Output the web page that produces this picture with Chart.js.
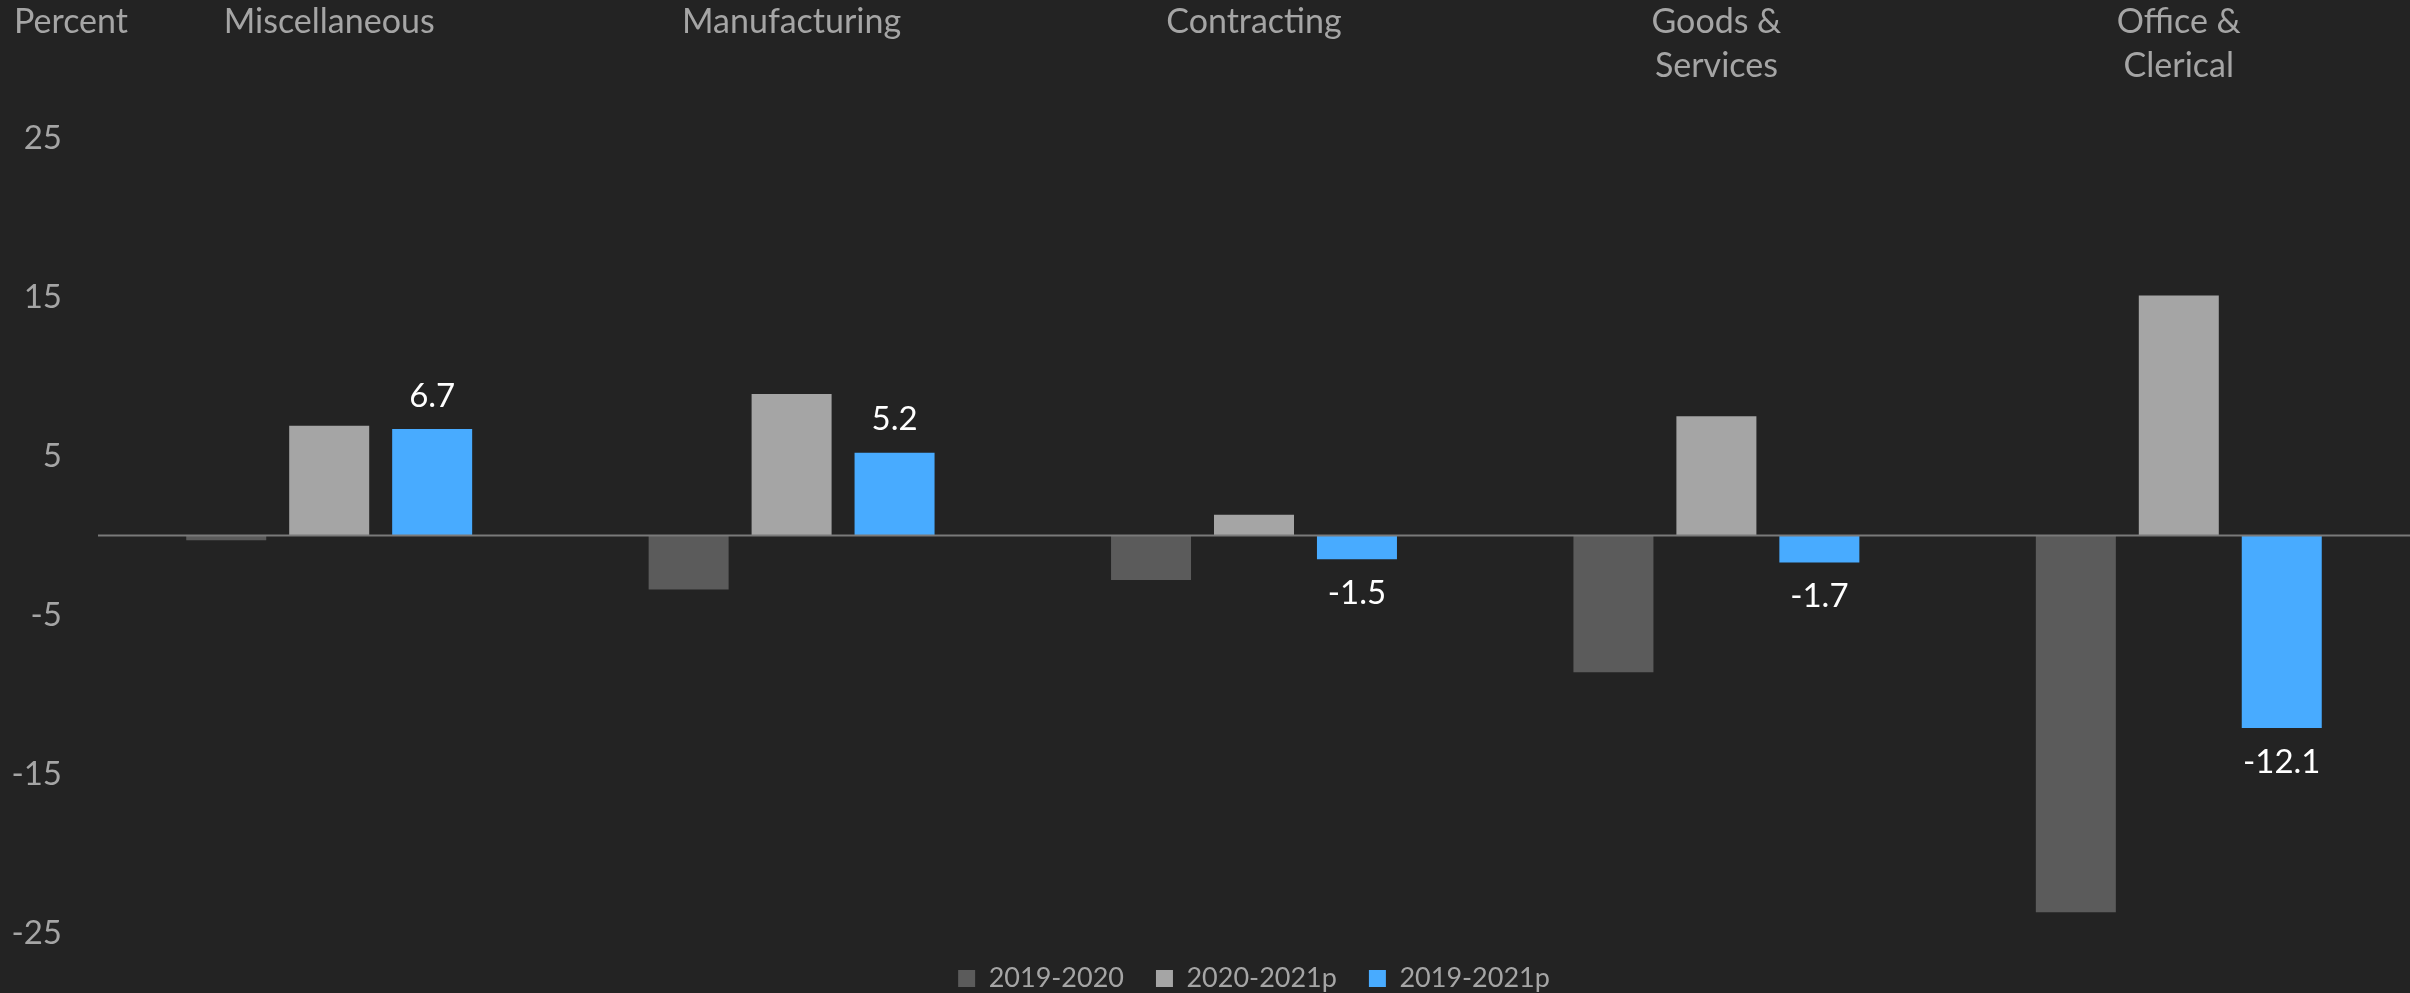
<!DOCTYPE html>
<html>
<head>
<meta charset="utf-8">
<title>Percent change by occupation group</title>
<script src="https://cdn.jsdelivr.net/npm/chart.js@4.4.1/dist/chart.umd.min.js"></script>
<style>
  html, body { margin: 0; padding: 0; background: #232323; }
  #wrap { width: 2410px; height: 993px; position: relative; }
  canvas { display: block; }
</style>
</head>
<body>
<div id="wrap"><canvas id="chart" width="2410" height="993"></canvas></div>
<script>
// Occupation groups (multi-line labels as arrays)
const categories = [
  ['Miscellaneous'],
  ['Manufacturing'],
  ['Contracting'],
  ['Goods &', 'Services'],
  ['Office &', 'Clerical']
];

// Series names
const seriesNames = ['2019-2020', '2020-2021p', '2019-2021p'];

// Percent change per group
const change2019to2020 = [-0.3, -3.4, -2.8, -8.6, -23.7];
const change2020to2021p = [6.9, 8.9, 1.3, 7.5, 15.1];
const change2019to2021p = [6.7, 5.2, -1.5, -1.7, -12.1];

// Value axis
const yTicks = [-25, -15, -5, 5, 15, 25];
const yAxisTitle = 'Percent';

const FONT = 'Lato';
const TEXT_GREY = '#a5a5a5';

// Horizontal line at zero across the plot
const zeroLine = {
  id: 'zeroLine',
  afterDatasetsDraw(chart) {
    const { ctx, chartArea, scales } = chart;
    const y = scales.y.getPixelForValue(0);
    ctx.save();
    ctx.strokeStyle = '#7a7a7a';
    ctx.lineWidth = 2;
    ctx.beginPath();
    ctx.moveTo(chartArea.left, y);
    ctx.lineTo(chartArea.right, y);
    ctx.stroke();
    ctx.restore();
  }
};

// Value labels on the cumulative series
const valueLabels = {
  id: 'valueLabels',
  afterDatasetsDraw(chart) {
    const { ctx } = chart;
    const dsIndex = 2;
    const meta = chart.getDatasetMeta(dsIndex);
    const values = chart.data.datasets[dsIndex].data;
    ctx.save();
    ctx.font = '33px ' + FONT;
    ctx.fillStyle = '#ffffff';
    ctx.textAlign = 'center';
    ctx.textBaseline = 'middle';
    meta.data.forEach((bar, i) => {
      const v = values[i];
      const y = v >= 0 ? bar.y - 33 : bar.y + 34;
      ctx.fillText(v.toFixed(1), bar.x, y);
    });
    ctx.restore();
  }
};

// Axis title written horizontally at the top-left corner
const axisTitle = {
  id: 'axisTitle',
  afterDraw(chart) {
    const { ctx } = chart;
    ctx.save();
    ctx.font = '34px ' + FONT;
    ctx.fillStyle = TEXT_GREY;
    ctx.textAlign = 'left';
    ctx.textBaseline = 'middle';
    ctx.fillText(yAxisTitle, 14, 22);
    ctx.restore();
  }
};

new Chart(document.getElementById('chart'), {
  type: 'bar',
  data: {
    labels: categories,
    datasets: [
      { label: seriesNames[0], data: change2019to2020, backgroundColor: '#5b5b5b', borderWidth: 0 },
      { label: seriesNames[1], data: change2020to2021p, backgroundColor: '#a5a5a5', borderWidth: 0 },
      { label: seriesNames[2], data: change2019to2021p, backgroundColor: '#48abff', borderWidth: 0 }
    ]
  },
  options: {
    responsive: false,
    animation: false,
    devicePixelRatio: 1,
    layout: { padding: 0 },
    datasets: {
      bar: { categoryPercentage: 0.668, barPercentage: 0.777 }
    },
    scales: {
      x: {
        position: 'top',
        grid: { display: false, drawTicks: false },
        border: { display: false },
        ticks: {
          color: TEXT_GREY,
          font: { family: FONT, size: 34, lineHeight: 44 / 34 },
          crossAlign: 'far',
          padding: 50,
          maxRotation: 0,
          autoSkip: false
        },
        afterFit(scale) { scale.height = 138; }
      },
      y: {
        position: 'left',
        min: -25,
        max: 25,
        grid: { display: false, drawTicks: false },
        border: { display: false },
        afterBuildTicks(scale) {
          scale.ticks = yTicks.map(v => ({ value: v }));
        },
        ticks: {
          color: TEXT_GREY,
          font: { family: FONT, size: 33 },
          padding: 36,
          callback: v => String(v)
        },
        afterFit(scale) { scale.width = 98; }
      }
    },
    plugins: {
      legend: {
        position: 'bottom',
        align: 'center',
        fullSize: false,
        maxHeight: 60,
        labels: {
          color: TEXT_GREY,
          font: { family: FONT, size: 27 },
          boxWidth: 17,
          boxHeight: 17,
          padding: 32
        }
      },
      tooltip: { enabled: false },
      title: { display: false }
    }
  },
  plugins: [zeroLine, valueLabels, axisTitle]
});
</script>
</body>
</html>
